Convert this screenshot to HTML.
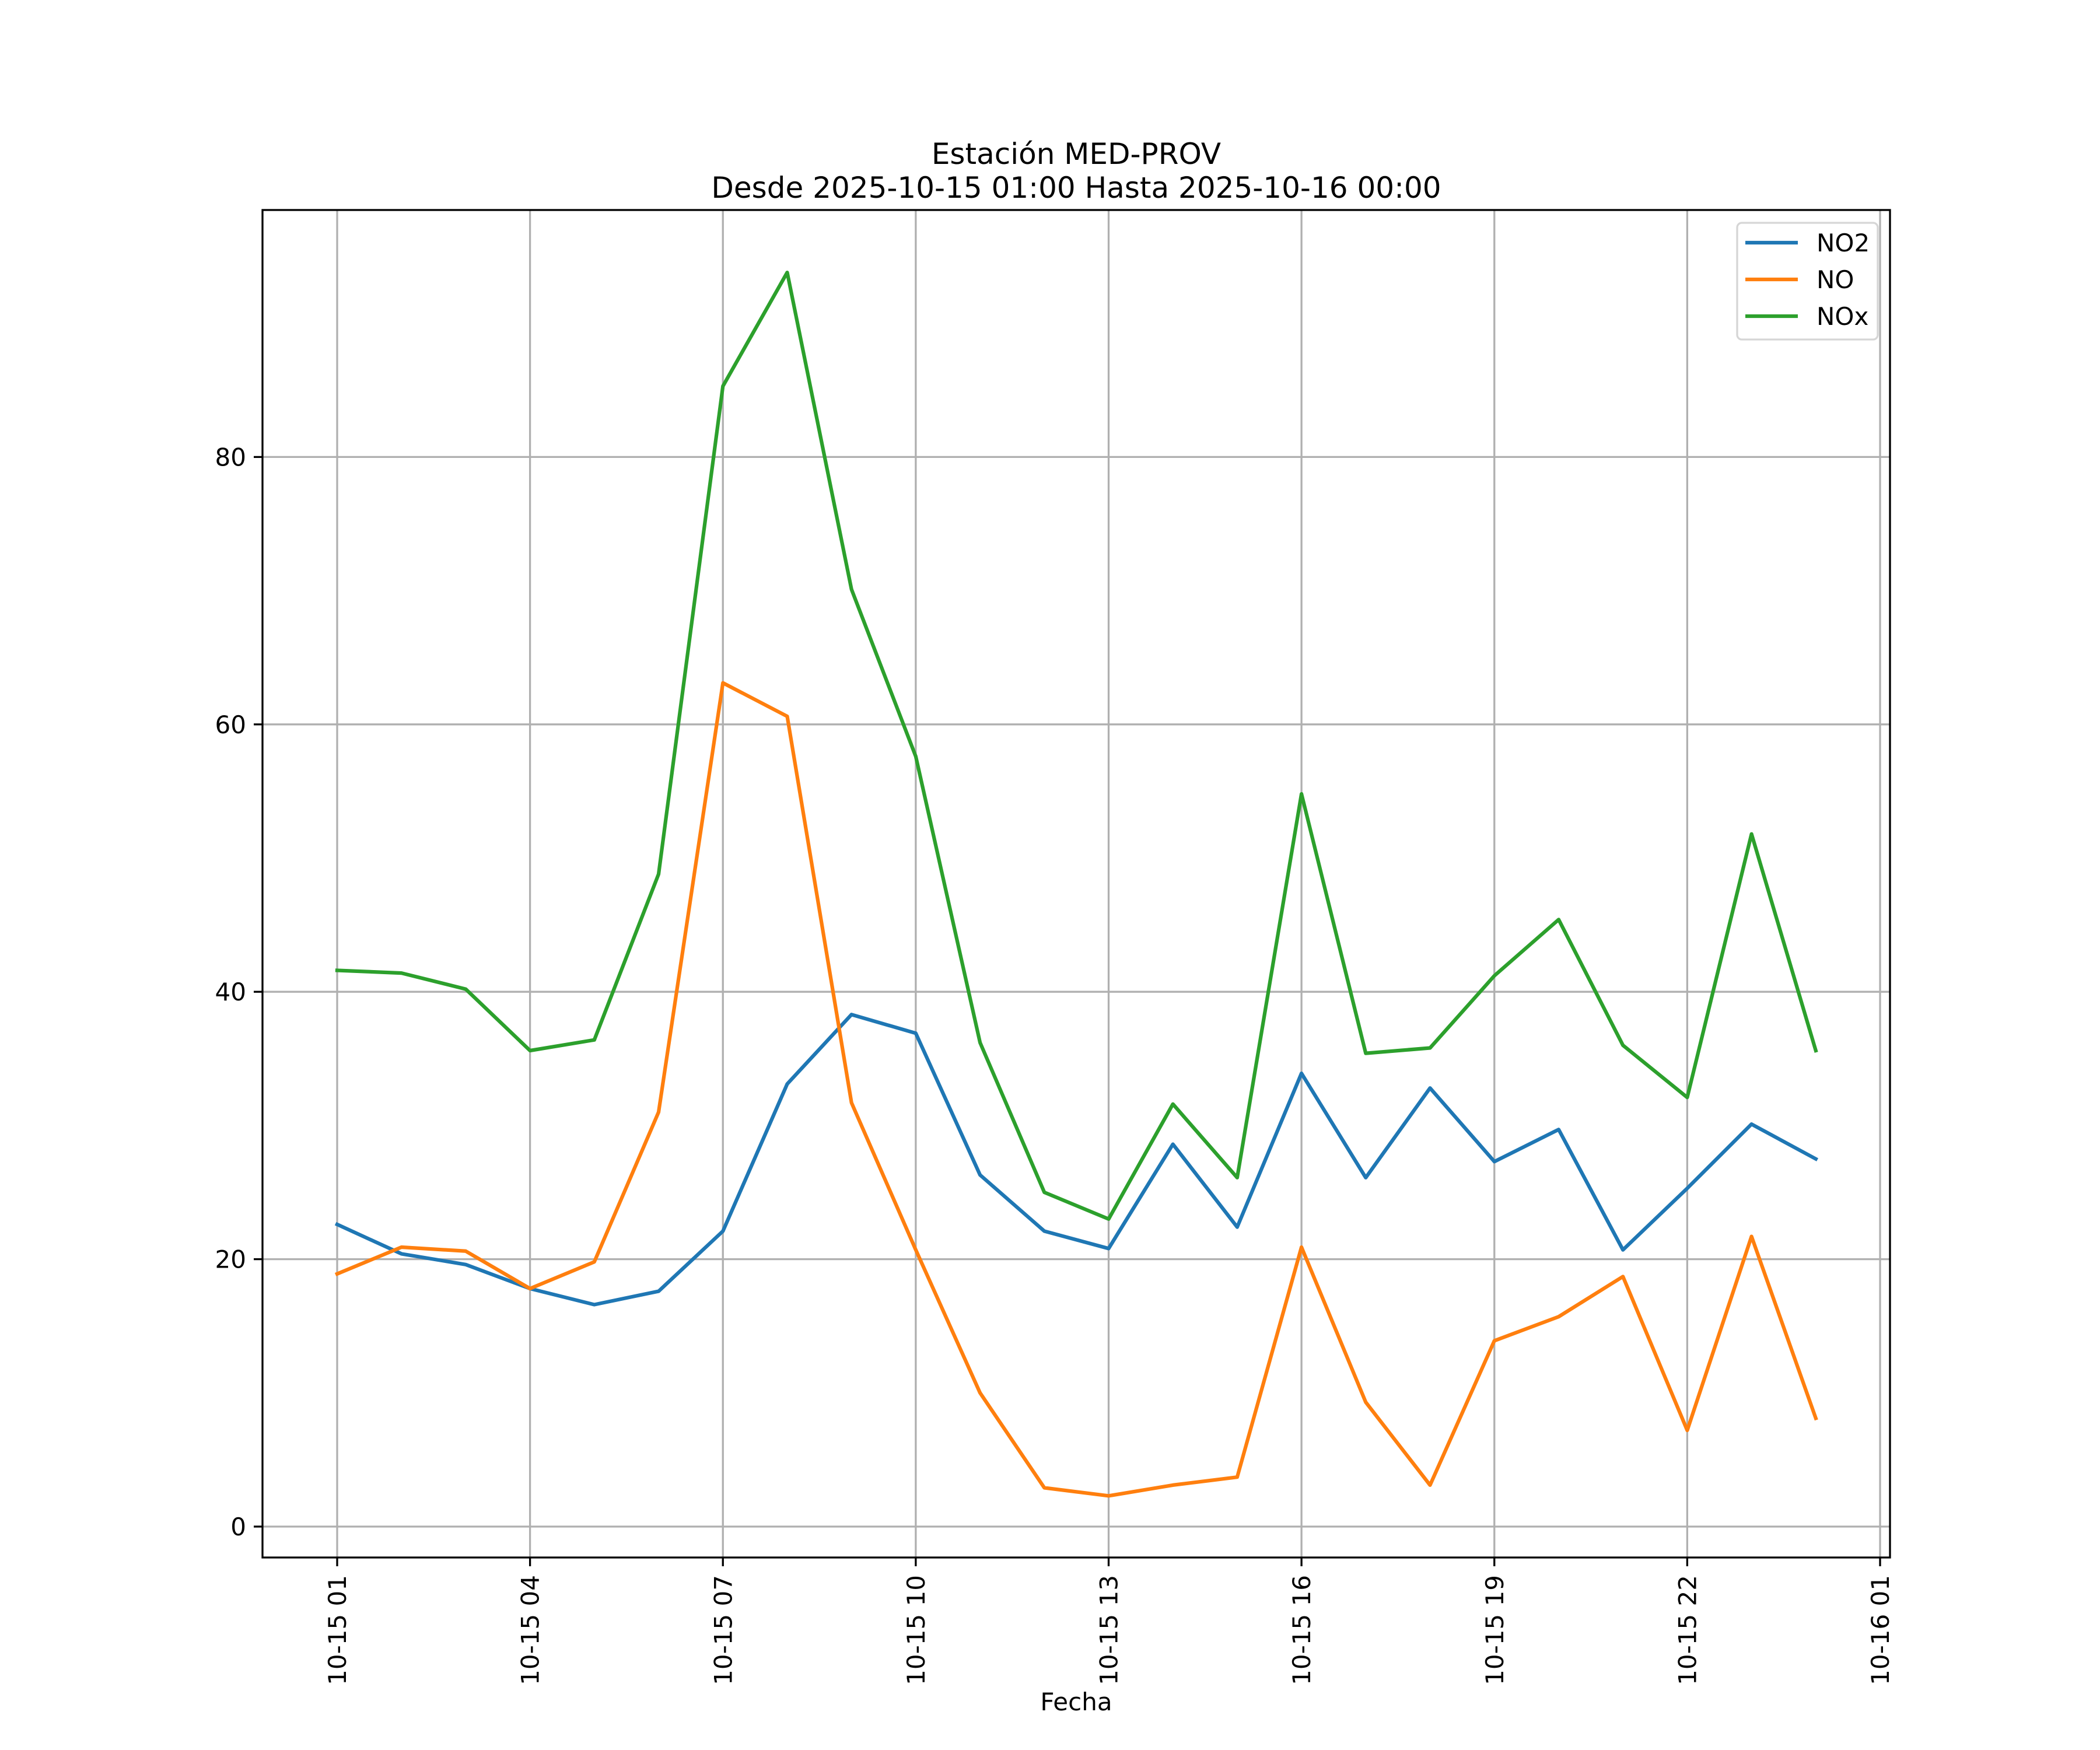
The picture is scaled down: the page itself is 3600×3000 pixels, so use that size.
<!DOCTYPE html>
<html><head><meta charset="utf-8"><style>
html,body{margin:0;padding:0;background:#fff}
svg{display:block;font-family:"DejaVu Sans","Liberation Sans",sans-serif}
</style></head><body>
<svg id="chart" width="3600" height="3000" viewBox="0 0 3600 3000" xmlns="http://www.w3.org/2000/svg">
<rect width="3600" height="3000" fill="#fff"/>
<text x="1845" y="281" font-size="50" text-anchor="middle">Estación MED-PROV</text>
<text x="1845" y="339" font-size="50" text-anchor="middle">Desde 2025-10-15 01:00 Hasta 2025-10-16 00:00</text>
<g id="grid"></g>
<g id="series"></g>
<rect x="450" y="360" width="2790" height="2310" fill="none" stroke="#000" stroke-width="3.3"/>
<g id="ticks"></g>
<text x="1845" y="2932" font-size="42" text-anchor="middle">Fecha</text>
<g>
<rect x="2978" y="382" width="241" height="200" rx="8" fill="#fff" fill-opacity="0.8" stroke="#d6d6d6" stroke-width="3.3"/>
<g><line x1="2992" y1="416" x2="3082" y2="416" stroke="#1f77b4" stroke-width="6.25"/><text x="3114" y="431" font-size="42">NO2</text></g>
<g><line x1="2992" y1="479" x2="3082" y2="479" stroke="#ff7f0e" stroke-width="6.25"/><text x="3114" y="494" font-size="42">NO</text></g>
<g><line x1="2992" y1="542" x2="3082" y2="542" stroke="#2ca02c" stroke-width="6.25"/><text x="3114" y="557" font-size="42">NOx</text></g>
</g>
</svg>
<script>
const hours = [1,2,3,4,5,6,7,8,9,10,11,12,13,14,15,16,17,18,19,20,21,22,23,24];
const no2 = [22.6,20.4,19.6,17.8,16.6,17.6,22.1,33.1,38.3,36.9,26.3,22.1,20.8,28.6,22.4,33.9,26.1,32.8,27.3,29.7,20.7,25.3,30.1,27.5];
const no = [18.9,20.9,20.6,17.8,19.8,31.0,63.1,60.6,31.7,20.7,10.0,2.9,2.3,3.1,3.7,20.9,9.3,3.1,13.9,15.7,18.7,7.2,21.7,8.1];
const nox = [41.6,41.4,40.2,35.6,36.4,48.8,85.3,93.8,70.1,57.6,36.2,25.0,23.0,31.6,26.1,54.8,35.4,35.8,41.2,45.4,36.0,32.1,51.8,35.6];
const xTickHours = [1,4,7,10,13,16,19,22,25];
const xTickLabels = ["10-15 01","10-15 04","10-15 07","10-15 10","10-15 13","10-15 16","10-15 19","10-15 22","10-16 01"];
const yTicks = [0,20,40,60,80];

const NS="http://www.w3.org/2000/svg";
function xs(h){return 578 + (h-1)*(3223-578)/24;}
function ys(v){return 2617 - v*22.92;}
function mk(tag,attrs,parent){const e=document.createElementNS(NS,tag);for(const k in attrs)e.setAttribute(k,attrs[k]);parent.appendChild(e);return e;}
const grid=document.getElementById('grid'), ticks=document.getElementById('ticks'), series=document.getElementById('series');
xTickHours.forEach((h,i)=>{
  const x=xs(h);
  const g=mk('line',{x1:x,y1:360,x2:x,y2:2670,stroke:'#b0b0b0','stroke-width':3.3},grid);
  
  
  const t=mk('line',{x1:x,y1:2670,x2:x,y2:2685,stroke:'#000','stroke-width':3.3},ticks);
  
  
  const l=mk('text',{x:0,y:0,'font-size':42,'text-anchor':'end',transform:`translate(${x+15},2700) rotate(-90)`},ticks);
  l.textContent=xTickLabels[i];
  
  
});
yTicks.forEach(v=>{
  const y=ys(v);
  const g=mk('line',{x1:450,y1:y,x2:3240,y2:y,stroke:'#b0b0b0','stroke-width':3.3},grid);
  
  
  const t=mk('line',{x1:435,y1:y,x2:450,y2:y,stroke:'#000','stroke-width':3.3},ticks);
  
  
  const l=mk('text',{x:422,y:y+15,'font-size':42,'text-anchor':'end'},ticks);
  l.textContent=v;
  
  
});
[[no2,'#1f77b4','no2-line'],[no,'#ff7f0e','no-line'],[nox,'#2ca02c','nox-line']].forEach(([d,c,n])=>{
  const pts=d.map((v,i)=>xs(hours[i]).toFixed(1)+','+ys(v).toFixed(1)).join(' ');
  const p=mk('polyline',{points:pts,fill:'none',stroke:c,'stroke-width':6.25,'stroke-linejoin':'round','stroke-linecap':'square'},series);
  
  
});
</script>
</body></html>
